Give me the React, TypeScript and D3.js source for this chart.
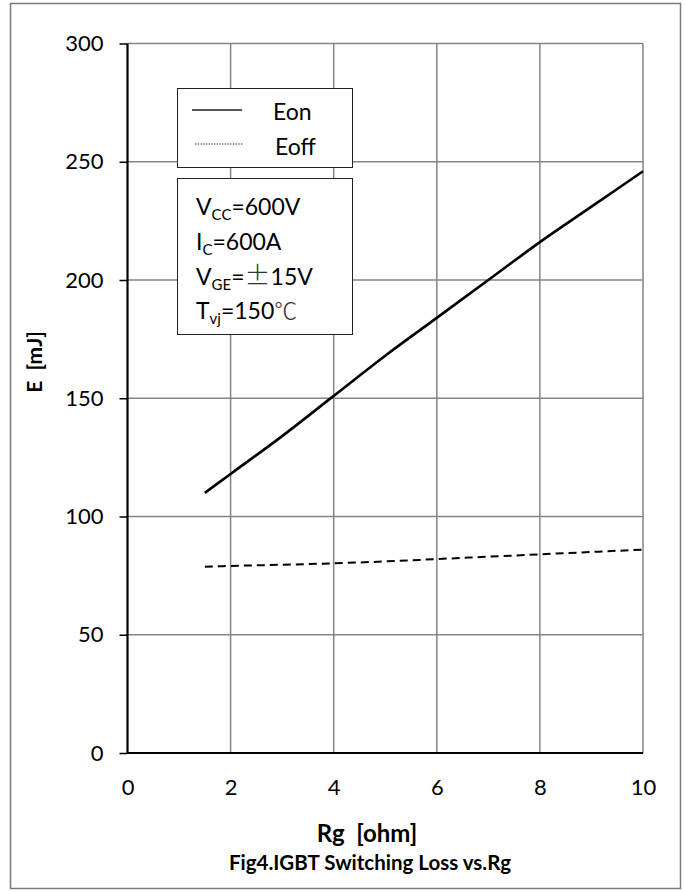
import React, { useEffect, useRef } from 'react';
import * as d3 from 'd3';

// Rg [ohm] sample points
const rg = [1.5, 2, 3, 4, 5, 6, 7, 8, 9, 10];
const eon = [110, 118, 134, 151, 168, 184, 200, 216, 231, 246];
const eoff = [78.8, 79.1, 79.6, 80.2, 81, 82, 83, 84, 85, 86];

const xTicks = [0, 2, 4, 6, 8, 10];
const yTicks = [0, 50, 100, 150, 200, 250, 300];

const conditions = [
  { main: 'V', sub: 'CC', rest: '=600V' },
  { main: 'I', sub: 'C', rest: '=600A' },
  { main: 'V', sub: 'GE', rest: '=±15V' },
  { main: 'T', sub: 'vj', rest: '=150℃' },
];

const FONT = 'Lato, "Noto Sans", sans-serif';

const App = () => {
  const ref = useRef<SVGSVGElement | null>(null);

  useEffect(() => {
    const width = 685;
    const height = 892;
    const margin = { top: 43.5, right: 42, bottom: 139, left: 127.5 };

    const svg = d3.select(ref.current);
    svg.selectAll('*').remove();
    svg.attr('width', width).attr('height', height);

    // outer frame
    svg.append('rect')
      .attr('x', 10.5).attr('y', 3.5)
      .attr('width', 670).attr('height', 885)
      .attr('fill', 'white')
      .attr('stroke', '#7a7a7a')
      .attr('stroke-width', 1.5);

    const x = d3.scaleLinear().domain([0, 10]).range([margin.left, width - margin.right]);
    const y = d3.scaleLinear().domain([0, 300]).range([height - margin.bottom, margin.top]);

    const g = svg.append('g');

    // grid
    g.selectAll('.vgrid')
      .data(xTicks.filter(d => d > 0))
      .enter().append('line')
      .attr('x1', d => x(d)).attr('x2', d => x(d))
      .attr('y1', y(0)).attr('y2', y(300))
      .attr('stroke', '#858585').attr('stroke-width', 1.5);
    g.selectAll('.hgrid')
      .data(yTicks.filter(d => d > 0))
      .enter().append('line')
      .attr('x1', x(0)).attr('x2', x(10))
      .attr('y1', d => y(d)).attr('y2', d => y(d))
      .attr('stroke', '#858585').attr('stroke-width', 1.5);

    // axes
    const yAxis = d3.axisLeft(y).tickValues(yTicks).tickSize(8).tickPadding(16);
    const gy = g.append('g').attr('transform', `translate(${x(0)},0)`).call(yAxis);
    gy.select('.domain').remove();
    gy.selectAll('line').attr('stroke', 'black').attr('stroke-width', 1.5);
    gy.selectAll('text').attr('font-family', FONT).attr('font-size', 22).attr('fill', 'black');

    const xAxis = d3.axisBottom(x).tickValues(xTicks).tickSize(0).tickPadding(26);
    const gx = g.append('g').attr('transform', `translate(0,${y(0)})`).call(xAxis);
    gx.select('.domain').remove();
    gx.selectAll('text').attr('font-family', FONT).attr('font-size', 22).attr('fill', 'black');

    g.append('line')
      .attr('x1', x(0)).attr('x2', x(0)).attr('y1', y(0) + 1).attr('y2', y(300))
      .attr('stroke', 'black').attr('stroke-width', 2.2);
    g.append('line')
      .attr('x1', x(0)).attr('x2', x(10)).attr('y1', y(0)).attr('y2', y(0))
      .attr('stroke', 'black').attr('stroke-width', 2.2);

    // curves
    const line = d3.line<number>()
      .x((_, i) => x(rg[i]))
      .y(d => y(d))
      .curve(d3.curveMonotoneX);

    g.append('path').datum(eon)
      .attr('d', line).attr('fill', 'none')
      .attr('stroke', 'black').attr('stroke-width', 2.6);
    g.append('path').datum(eoff)
      .attr('d', line).attr('fill', 'none')
      .attr('stroke', 'black').attr('stroke-width', 2)
      .attr('stroke-dasharray', '8,5');

    // legend
    const leg = svg.append('g');
    leg.append('rect')
      .attr('x', 177.5).attr('y', 88.5).attr('width', 175).attr('height', 79)
      .attr('fill', 'white').attr('stroke', '#222').attr('stroke-width', 1);
    leg.append('line')
      .attr('x1', 192).attr('x2', 242).attr('y1', 110).attr('y2', 110)
      .attr('stroke', '#222').attr('stroke-width', 1.3);
    leg.append('line')
      .attr('x1', 195).attr('x2', 243).attr('y1', 144).attr('y2', 144)
      .attr('stroke', '#333').attr('stroke-width', 1)
      .attr('stroke-dasharray', '1.5,1.2');
    leg.append('text').attr('x', 273).attr('y', 120).text('Eon')
      .attr('font-family', FONT).attr('font-size', 23);
    leg.append('text').attr('x', 275).attr('y', 155).text('Eoff')
      .attr('font-family', FONT).attr('font-size', 23);

    // conditions box
    const box = svg.append('g');
    box.append('rect')
      .attr('x', 177.5).attr('y', 178.5).attr('width', 175).attr('height', 156)
      .attr('fill', 'white').attr('stroke', '#222').attr('stroke-width', 1);
    const lines = box.selectAll('.cond')
      .data(conditions)
      .enter().append('text')
      .attr('x', 196)
      .attr('y', (_, i) => 215 + i * 34.8)
      .attr('font-family', FONT).attr('font-size', 23);
    lines.append('tspan').text(d => d.main);
    lines.append('tspan').text(d => d.sub).attr('font-size', 15).attr('dy', 5);
    lines.each(function (d) {
      const t = d3.select(this);
      const parts = d.rest.split(/([±℃])/).filter(s => s.length);
      parts.forEach((p, k) => {
        const ts = t.append('tspan').text(p);
        if (k === 0) ts.attr('dy', -5);
        if (p === '±' || p === '℃') {
          ts.attr('font-family', '"Noto Sans CJK SC", sans-serif').attr('font-weight', 300).attr('fill', '#333');
          if (p === '±') ts.attr('font-size', 26);
        }
      });
    });

    // axis titles
    svg.append('text')
      .attr('transform', `translate(42,362) rotate(-90)`)
      .attr('text-anchor', 'middle')
      .attr('font-family', FONT).attr('font-weight', 'bold').attr('font-size', 21)
      .attr('xml:space', 'preserve')
      .text('E  [mJ]');
    svg.append('text')
      .attr('x', 367).attr('y', 842)
      .attr('text-anchor', 'middle')
      .attr('font-family', FONT).attr('font-weight', 'bold').attr('font-size', 24)
      .attr('xml:space', 'preserve')
      .text('Rg  [ohm]');
    svg.append('text')
      .attr('x', 370).attr('y', 870)
      .attr('text-anchor', 'middle')
      .attr('font-family', FONT).attr('font-weight', 'bold').attr('font-size', 20.5)
      .text('Fig4.IGBT Switching Loss vs.Rg');
  }, []);

  return (
    <svg ref={ref} style={{ position: 'absolute', left: 0, top: 0, display: 'block' }} />
  );
};

export default App;
